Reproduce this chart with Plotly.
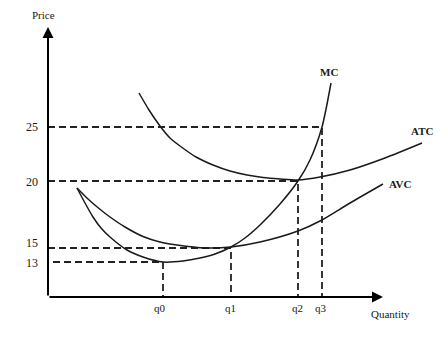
import plotly.graph_objects as go

# Sketch coordinates: quantity units to the right of the price axis, price units above the quantity axis
q_labels = ["q0", "q1", "q2", "q3"]
q_pos = [115, 183, 250, 274]
price_labels = ["13", "15", "20", "25"]
price_pos = [35, 49, 116, 170]

mc_q = [29, 37, 45, 53, 62, 79, 95, 115, 135, 152, 167, 183, 197, 212, 232, 250, 262, 274, 283]
mc_p = [109, 94, 80, 69, 60, 47, 40, 35, 36, 39, 43, 50, 59, 72, 93, 116, 137, 170, 214]

avc_q = [29, 40, 51, 62, 77, 95, 112, 129, 157, 183, 212, 250, 272, 302, 335]
avc_p = [109, 98, 88.5, 80, 70, 60.5, 55, 52, 49, 50, 55, 66, 76, 94, 113]

atc_q = [91, 101, 112, 122, 132, 148, 165, 182, 199, 215, 232, 250, 272, 302, 337, 374]
atc_p = [204, 187, 171, 159, 151, 140, 132, 126, 122, 119.5, 118, 117, 120, 127, 139, 154]

FONT = "Liberation Serif"
INK = "#1a1a1a"

fig = go.Figure()

# dashed guide lines
for i, (q, p) in enumerate(zip(q_pos, price_pos)):
    x0 = 5 if i == 0 else 0
    fig.add_trace(go.Scatter(x=[x0, q, q], y=[p, p, 0], mode="lines",
                             line=dict(color="#222", width=1.8, dash="7px,4px"),
                             hoverinfo="skip", showlegend=False))

for xs, ys in [(mc_q, mc_p), (avc_q, avc_p), (atc_q, atc_p)]:
    fig.add_trace(go.Scatter(x=xs, y=ys, mode="lines",
                             line=dict(color=INK, width=1.5, shape="spline", smoothing=0.7),
                             hoverinfo="skip", showlegend=False))

ann = []
# axes with arrows
ann.append(dict(x=0, y=270, ax=0, ay=0, xref="x", yref="y", axref="x", ayref="y",
                showarrow=True, arrowhead=2, arrowsize=1.1, arrowwidth=2, arrowcolor="black", text=""))
ann.append(dict(x=335, y=0, ax=0, ay=0, xref="x", yref="y", axref="x", ayref="y",
                showarrow=True, arrowhead=2, arrowsize=1.1, arrowwidth=2, arrowcolor="black", text=""))

tf = dict(family=FONT, size=12, color=INK)
ann.append(dict(x=-5, y=282, text="Price", showarrow=False, xref="x", yref="y",
                font=dict(family=FONT, size=11, color=INK)))
ann.append(dict(x=342, y=-17, text="Quantity", showarrow=False, xref="x", yref="y",
                font=dict(family=FONT, size=11, color=INK)))

price_label_shift = [1, -5, 1, 0]
for lab, p, s in zip(price_labels, price_pos, price_label_shift):
    ann.append(dict(x=-16, y=p - s, text=lab, showarrow=False, xref="x", yref="y", font=tf))
for lab, q in zip(q_labels, q_pos):
    ann.append(dict(x=q - 3 if lab == "q0" else q - 1, y=-11, text=lab, showarrow=False,
                    xref="x", yref="y", font=dict(family=FONT, size=11, color=INK)))

curve_font = dict(family=FONT, size=11, color=INK)
ann.append(dict(x=mc_q[-1] - 2, y=mc_p[-1] + 11, text="<b>MC</b>", showarrow=False, xref="x", yref="y", font=curve_font))
ann.append(dict(x=atc_q[-1], y=atc_p[-1] + 12, text="<b>ATC</b>", showarrow=False, xref="x", yref="y", font=curve_font))
ann.append(dict(x=avc_q[-1] + 17, y=avc_p[-1], text="<b>AVC</b>", showarrow=False, xref="x", yref="y", font=curve_font))

fig.update_layout(
    width=443, height=338,
    margin=dict(l=0, r=0, t=0, b=0),
    paper_bgcolor="white", plot_bgcolor="white",
    xaxis=dict(range=[-48, 395], visible=False, fixedrange=True),
    yaxis=dict(range=[-41, 297], visible=False, fixedrange=True),
    annotations=ann,
)

fig.write_html("out.html")
